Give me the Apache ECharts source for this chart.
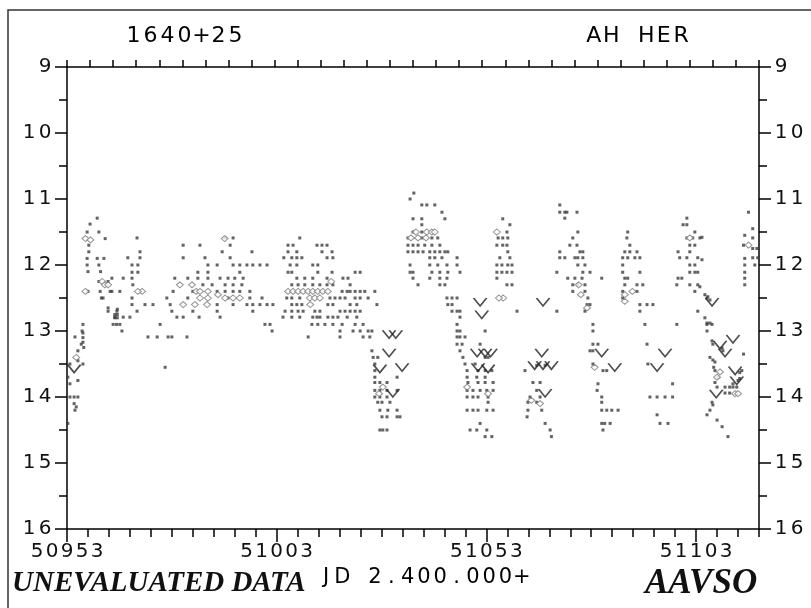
<!DOCTYPE html>
<html><head><meta charset="utf-8">
<script src="https://cdn.jsdelivr.net/npm/echarts@6/dist/echarts.min.js"></script>
<style>html,body{margin:0;padding:0;background:#fff}#c{width:811px;height:608px}</style>
</head><body><div id="c"></div><script>
// ---------- text ----------
const starDesignation = '1640+25';
const starName = 'AH HER';
const jdLabel = 'JD 2.400.000+';
const dataNote = 'UNEVALUATED DATA';
const orgName = 'AAVSO';

// ---------- axes ----------
const jdStart = 50953, jdEnd = 51118;
const jdLabelTicks = [50953, 51003, 51053, 51103];
const magMin = 9, magMax = 16;

// ---------- observations [JD, magnitude] ----------
const obsA = [
[50953.2,14.4],[50953.7,14.0],[50954.7,14.0],[50955.6,14.0],[50954.7,14.1],[50955.2,14.15],[50954.9,14.2],[50953.7,13.8],[50953.7,13.5],[50956.8,13.5],[50953.2,13.7],[50955.6,13.75],[50955.6,13.3],[50955.6,13.45],[50956.8,13.03],[50956.8,13.1],[50956.8,13.17],[50956.4,13.2],[50957.0,13.25],
[50958.5,11.38],[50960.2,11.29],[50957.8,11.5],[50960.6,11.5],[50962.1,11.6],[50958.2,11.7],[50958.2,11.8],[50957.8,11.9],[50960.2,11.9],[50961.8,11.9],[50957.8,12.0],[50960.6,12.0],[50958.0,12.1],[50961.0,12.1],[50963.7,12.2],[50960.6,12.25],[50962.8,12.25],[50958.0,12.4],[50963.7,12.4],[50961.2,12.5],[50962.8,12.65],[50965.0,12.67],[50964.4,12.75],[50965.0,12.75],[50964.4,12.8],[50965.0,12.8],[50964.8,12.9],
[50969.7,11.59],[50990.7,11.59],[50992.6,11.59],[50980.7,11.7],[50984.7,11.7],[50991.9,11.7],[50970.4,11.8],[50990.0,11.8],[50997.1,11.8],[50967.5,11.89],[50970.4,11.89],[50980.7,11.89],[50985.9,11.89],[50991.9,11.89],
[50968.5,12.0],[50969.9,12.0],[50986.6,12.0],[50988.8,12.0],[50992.6,12.0],[50994.2,12.0],[50995.9,12.0],[50997.3,12.0],
[50968.5,12.11],[50969.9,12.11],[50984.2,12.11],[50986.6,12.11],[50994.2,12.11],
[50966.4,12.2],[50968.5,12.2],[50978.7,12.2],[50981.8,12.2],[50984.2,12.2],[50986.6,12.2],[50989.5,12.2],[50991.4,12.2],[50993.0,12.2],[50995.0,12.2],
[50968.7,12.3],[50985.4,12.3],[50987.6,12.3],[50990.7,12.3],[50992.6,12.3],[50994.7,12.3],
[50960.9,12.4],[50963.3,12.4],[50965.6,12.4],[50978.3,12.4],[50983.0,12.4],[50988.8,12.4],[50990.7,12.4],[50992.6,12.4],[50994.2,12.4],[50996.6,12.4],
[50961.6,12.5],[50968.5,12.5],[50976.8,12.5],[50981.8,12.5],[50991.4,12.5],[50996.6,12.5],
[50968.5,12.6],[50971.6,12.6],[50973.5,12.6],[50977.6,12.6],[50988.8,12.6],[50992.6,12.6],[50995.9,12.6],[50997.3,12.6],
[50962.8,12.7],[50964.9,12.7],[50969.7,12.7],[50978.0,12.7],[50983.0,12.7],[50988.8,12.7],[50997.3,12.7],
[50964.4,12.79],[50966.4,12.79],[50968.0,12.79],[50979.2,12.79],[50980.7,12.79],[50984.5,12.79],[50989.5,12.79],
[50956.8,12.9],[50964.0,12.9],[50965.6,12.9],[50975.2,12.9],
[50956.6,13.0],[50966.1,13.0],
[50954.9,13.09],[50972.3,13.09],[50974.5,13.09],[50977.1,13.09],[50978.0,13.09],[50981.6,13.09],[50976.4,13.55]
];
const obsB = [
[51008.5,11.59],[51005.7,11.7],[51006.9,11.7],[51012.6,11.7],[51013.8,11.7],[51015.0,11.7],
[51005.7,11.8],[51007.8,11.8],[51013.8,11.8],[51016.2,11.8],
[51004.7,11.89],[51006.6,11.89],[51007.8,11.89],[51009.0,11.89],[51015.0,11.89],[51016.4,11.89],
[50999.0,12.0],[51000.7,12.0],[51006.2,12.0],[51007.8,12.0],[51011.6,12.0],[51012.8,12.0],
[51005.7,12.11],[51006.6,12.11],[51012.8,12.11],[51016.2,12.11],[51021.7,12.11],[51022.9,12.11],
[51007.8,12.2],[51009.7,12.2],[51011.6,12.2],[51015.0,12.2],[51018.8,12.2],[51020.0,12.2],
[51006.6,12.3],[51008.1,12.3],[51009.7,12.3],[51011.6,12.3],[51013.3,12.3],[51015.0,12.3],[51016.4,12.3],[51020.5,12.3],
[51018.6,12.4],[51019.8,12.4],[51020.5,12.4],[51021.7,12.4],[51022.9,12.4],[51024.0,12.4],[51026.4,12.4],
[50999.5,12.5],[51005.4,12.5],[51006.6,12.5],[51008.5,12.5],[51015.7,12.5],[51016.9,12.5],[51018.1,12.5],[51019.3,12.5],[51021.7,12.5],[51022.9,12.5],[51024.8,12.5],
[50999.0,12.6],[51000.7,12.6],[51002.1,12.6],[51006.6,12.6],[51007.8,12.6],[51009.0,12.6],[51015.2,12.6],[51016.4,12.6],[51020.5,12.6],[51022.1,12.6],[51026.9,12.6],
[51005.0,12.7],[51006.6,12.7],[51008.1,12.7],[51009.3,12.7],[51012.1,12.7],[51013.3,12.7],[51018.1,12.7],[51019.3,12.7],[51020.5,12.7],[51021.7,12.7],[51022.9,12.7],
[51004.5,12.79],[51006.6,12.79],[51008.5,12.79],[51011.6,12.79],[51012.6,12.79],[51013.3,12.79],[51015.2,12.79],[51016.4,12.79],[51017.6,12.79],[51019.8,12.79],[51022.1,12.79],
[51000.2,12.9],[51001.4,12.9],[51011.4,12.9],[51012.8,12.9],[51014.5,12.9],[51016.4,12.9],[51018.6,12.9],[51021.7,12.9],[51023.6,12.9],
[51001.9,13.0],[51018.1,13.0],[51021.2,13.0],[51022.9,13.0],[51024.8,13.0],[51025.7,13.0],
[51010.5,13.09],[51018.1,13.09],[51023.6,13.09],[51025.2,13.09],
[51025.7,13.3],[51026.0,13.4],[51027.1,13.4],[51026.4,13.5],[51026.4,13.6],[51026.4,13.7],[51031.7,13.7],
[51026.4,13.78],[51027.6,13.78],[51029.3,13.78],
[51026.4,13.9],[51027.6,13.9],[51029.3,13.9],[51031.7,13.9],
[51026.4,14.0],[51027.6,14.0],[51029.3,14.0],
[51027.1,14.08],[51028.1,14.08],[51030.0,14.08],
[51027.6,14.2],[51029.5,14.2],[51031.7,14.2],
[51028.1,14.3],[51029.3,14.3],[51031.7,14.3],[51032.4,14.3],
[51027.6,14.5],[51028.3,14.5],[51029.3,14.5]
];
const obsC = [
[51035.7,10.91],[51034.8,11.0],[51037.6,11.09],[51038.8,11.09],[51040.7,11.09],[51042.4,11.2],[51035.5,11.3],[51037.6,11.3],[51043.1,11.3],[51037.6,11.39],
[51035.5,11.5],[51037.6,11.5],
[51034.3,11.59],[51037.6,11.59],[51040.0,11.59],[51041.4,11.59],
[51034.3,11.7],[51035.5,11.7],[51036.7,11.7],[51038.3,11.7],[51040.0,11.7],[51041.9,11.7],
[51034.3,11.8],[51035.5,11.8],[51036.7,11.8],[51037.9,11.8],[51039.5,11.8],[51040.7,11.8],[51041.9,11.8],[51043.1,11.8],[51043.8,11.8],
[51039.5,11.89],[51040.7,11.89],[51042.4,11.89],[51046.0,11.89],
[51034.8,12.0],[51039.5,12.0],[51041.4,12.0],[51043.6,12.0],[51046.0,12.0],
[51034.8,12.11],[51035.5,12.11],[51040.0,12.11],[51041.9,12.11],[51043.8,12.11],[51046.7,12.11],
[51035.5,12.2],[51039.5,12.2],[51041.9,12.2],[51043.6,12.2],
[51036.7,12.3],[51041.9,12.3],[51043.1,12.3],
[51043.6,12.5],[51044.8,12.5],[51046.0,12.5],
[51043.8,12.6],[51044.8,12.6],
[51044.8,12.7],[51046.0,12.7],[51046.7,12.7],
[51046.7,12.79],[51046.0,12.9],[51046.0,13.0],[51046.7,13.0],
[51046.0,13.09],[51046.7,13.09],[51047.9,13.09],
[51046.0,13.2],[51047.2,13.2],[51046.7,13.3],[51047.4,13.4],[51047.9,13.5],[51048.4,13.6],
[51048.4,13.7],[51050.7,13.7],
[51048.6,13.78],[51051.0,13.78],[51052.7,13.78],[51054.6,13.78],
[51048.4,13.9],[51049.8,13.9],[51051.5,13.9],[51053.1,13.9],[51054.6,13.9],
[51048.4,14.0],[51049.8,14.0],[51051.0,14.0],[51053.4,14.0],
[51053.4,14.08],
[51048.4,14.2],[51049.8,14.2],[51051.0,14.2],[51053.1,14.2],[51054.6,14.2],
[51051.5,14.4],
[51049.1,14.5],[51050.7,14.5],[51053.1,14.5],
[51052.7,14.6],[51054.3,14.6],
[51052.7,13.0],[51051.5,13.2],[51052.7,13.4],[51053.4,13.4],[51050.3,13.5],[51051.0,13.6],[51052.7,13.6],[51054.3,13.6],[51052.7,13.7],
[51056.9,11.3],[51058.6,11.39],[51057.9,11.5],[51055.8,11.59],[51056.9,11.59],[51058.1,11.59],[51055.5,11.7],[51056.9,11.7],[51057.9,11.7],[51058.1,11.8],[51056.2,11.89],[51058.6,11.89],[51055.5,12.0],[51056.7,12.0],[51058.1,12.0],[51059.1,12.0],[51055.5,12.11],[51056.7,12.11],[51057.9,12.11],[51059.1,12.11],[51055.5,12.2],[51057.9,12.3],[51059.1,12.3],[51060.3,12.7],
[51062.2,13.6],[51065.0,13.52],[51067.0,13.52],[51064.1,13.78],[51065.8,13.78],[51065.0,13.9],[51063.4,14.0],[51065.8,14.0],[51062.9,14.08],[51065.0,14.08],[51062.9,14.2],[51066.2,14.2],[51062.7,14.3],[51067.0,14.4],[51068.2,14.5],[51068.5,14.6]
];
const obsD = [
[51070.5,11.09],[51070.5,11.2],[51071.7,11.2],[51072.2,11.2],[51074.6,11.2],[51071.7,11.29],[51074.8,11.5],[51073.6,11.59],[51072.9,11.7],[51074.6,11.7],[51070.5,11.8],[51075.3,11.8],[51076.0,11.8],[51070.5,11.89],[51071.7,11.89],[51074.1,11.89],[51074.8,11.89],[51076.0,11.89],[51074.8,12.0],[51076.5,12.0],[51069.8,12.11],[51076.0,12.11],[51077.7,12.11],[51072.4,12.2],[51074.1,12.2],[51075.8,12.2],[51080.5,12.2],[51073.6,12.3],[51074.8,12.3],[51076.5,12.3],[51073.6,12.4],[51076.5,12.4],[51077.2,12.5],[51077.0,12.6],[51077.7,12.6],[51069.8,12.7],[51076.5,12.7],[51078.4,12.9],[51078.4,13.0],[51078.4,13.2],[51079.6,13.2],[51077.7,13.3],[51078.4,13.3],[51078.4,13.5],[51080.8,13.6],[51081.7,13.6],[51079.6,13.8],[51079.4,13.9],[51080.5,14.0],[51080.5,14.08],[51080.5,14.2],[51081.7,14.2],[51082.9,14.2],[51084.4,14.2],[51080.5,14.4],[51081.2,14.4],[51082.5,14.4],[51080.8,14.5],
[51086.7,11.5],[51086.5,11.59],[51087.2,11.7],[51086.0,11.8],[51087.2,11.8],[51088.9,11.8],[51085.5,11.89],[51086.7,11.89],[51088.4,11.89],[51089.6,11.89],[51085.5,12.0],[51085.5,12.11],[51089.6,12.11],[51086.0,12.2],[51086.7,12.2],[51086.0,12.3],[51088.9,12.3],[51090.3,12.3],[51085.5,12.4],[51088.9,12.4],[51085.5,12.5],[51089.6,12.6],[51091.3,12.6],[51092.7,12.6],[51089.6,12.7],[51090.8,12.9],[51091.3,13.2],[51091.5,13.5],[51092.0,14.0],[51093.7,14.0],[51095.6,14.0],[51097.4,14.0],[51093.7,14.27],[51094.4,14.4],[51096.3,14.4],[51097.4,13.8],
[51100.8,11.29],[51099.9,11.39],[51100.8,11.39],[51102.7,11.5],[51100.8,11.59],[51102.2,11.59],[51103.9,11.59],[51101.5,11.7],[51102.7,11.7],[51098.7,11.8],[51101.5,11.8],[51099.1,11.89],[51100.8,11.89],[51103.4,11.89],[51101.5,12.0],[51102.7,12.0],[51101.5,12.11],[51102.7,12.11],[51103.4,12.11],[51098.7,12.2],[51099.6,12.2],[51098.4,12.3],[51101.5,12.3],[51103.4,12.3],[51102.7,12.4],[51105.6,12.5],[51103.4,12.7],[51098.4,12.9],[51105.6,12.9],[51106.8,12.9],[51105.6,13.0],
[51104.4,11.58],[51104.4,11.92],[51103.9,12.33],[51105.1,12.45],[51105.8,12.48],[51106.3,12.53],[51105.1,12.8],[51105.6,12.88],[51106.3,12.88],[51106.8,13.15],[51107.0,13.2],[51109.2,13.26],[51109.4,13.3],[51106.3,13.4],[51107.0,13.44],[51107.5,13.47],[51107.2,13.55],[51107.5,13.6],[51108.2,13.7],[51113.4,13.63],[51107.5,13.78],[51111.8,13.8],[51113.0,13.75],[51113.4,13.72],[51108.0,13.85],[51109.9,13.85],[51111.0,13.85],[51111.8,13.85],[51112.7,13.85],[51109.9,13.94],[51111.0,13.94],[51106.8,14.08],[51107.0,14.12],[51106.3,14.2],[51105.6,14.27],[51108.0,14.35],[51109.2,14.45],[51110.6,14.6],[51113.9,13.6],[51114.3,13.35],
[51115.5,11.2],[51114.6,11.55],[51116.5,11.45],[51116.5,11.75],[51117.5,11.75],[51114.6,11.9],[51114.6,12.0],[51114.6,12.11],[51116.5,11.89],[51117.7,11.89],[51117.0,12.0],[51114.3,11.7],[51116.5,11.59],[51114.6,12.2],[51114.6,12.3]
];
const diamondObs = [
[50957.4,11.6],[50958.6,11.62],[50957.4,12.4],[50961.4,12.25],[50962.0,12.3],[50955.2,13.4],[50979.9,12.3],[50982.8,12.3],[50983.8,12.4],[50984.7,12.4],[50986.6,12.4],[50980.7,12.6],[50983.5,12.6],[50986.4,12.6],[50990.7,12.5],[50992.6,12.5],[50994.2,12.5],[50990.6,11.6],[50962.8,12.3],[50970.9,12.4],[50969.9,12.4],[50984.7,12.5],[50986.6,12.5],[50989.0,12.45],
[51005.7,12.4],[51006.9,12.4],[51008.1,12.4],[51009.3,12.4],[51010.5,12.4],[51011.6,12.4],[51012.8,12.4],[51014.0,12.4],[51015.2,12.4],[51010.9,12.5],[51012.1,12.5],[51013.3,12.5],[51011.0,12.6],[51016.0,12.25],[51028.3,13.85],[51027.4,13.95],
[51036.2,11.5],[51038.8,11.5],[51040.0,11.5],[51040.7,11.5],[51035.0,11.59],[51036.7,11.59],[51038.6,11.59],[51055.5,11.5],[51057.0,12.5],[51056.0,12.5],[51053.4,13.95],[51048.4,13.85],[51075.0,12.3],[51075.5,12.45],[51077.0,12.65],[51086.0,12.45],[51086.0,12.55],[51087.8,12.4],[51101.5,11.59],[51108.7,13.62],[51108.0,13.7],[51112.3,13.95],[51113.0,13.95],[51115.5,11.7],[51078.8,13.55],[51063.7,14.05],[51065.8,14.1]
];
const fainterObs = [
[50954.7,13.57],[51029.8,13.05],[51031.4,13.05],[51029.8,13.33],[51027.6,13.57],[51032.9,13.55],[51030.7,13.94],[51051.5,12.56],[51051.9,12.75],[51052.7,13.33],[51050.8,13.33],[51054.0,13.33],[51053.4,13.57],[51051.0,13.55],[51064.5,13.52],[51066.5,13.52],[51068.5,13.52],[51066.2,13.33],[51066.5,12.56],[51067.0,13.94],[51080.5,13.33],[51083.6,13.55],[51095.6,13.33],[51093.7,13.55],[51106.8,12.56],[51108.7,13.21],[51111.8,13.12],[51112.3,13.6],[51109.9,13.33],[51112.7,13.75],[51107.8,13.95]
];

// ---------- helpers ----------
const INK = '#111';
const plotFont = '"DejaVu Sans", sans-serif';
function mono(s, st) { return s.split('').map(ch => '{' + st + '|' + ch + '}').join(''); }
function monoRich(st, w, size) {
  const r = {}; r[st] = { width: w, align: 'center', fontFamily: plotFont, fontSize: size, color: INK, lineHeight: size + 2 };
  return r;
}
const axisLineStyle = { color: '#000', width: 1.5 };

const chart = echarts.init(document.getElementById('c'), null, { renderer: 'canvas' });
const yAxisBase = (pos) => ({
  type: 'value', position: pos, inverse: true, min: magMin, max: magMax, interval: 1,
  axisLine: { show: true, lineStyle: axisLineStyle },
  axisTick: { show: true, inside: false, length: 12, lineStyle: axisLineStyle },
  minorTick: { show: true, splitNumber: 2, length: 8, lineStyle: axisLineStyle },
  splitLine: { show: false }, minorSplitLine: { show: false },
  axisLabel: { show: true, margin: 14, formatter: v => mono(String(v), 'y'), rich: monoRich('y', 16, 20) }
});
chart.setOption({
  animation: false,
  backgroundColor: '#fff',
  grid: { left: 67, right: 52, top: 67, bottom: 79, containLabel: false, outerBoundsMode: 'none' },
  xAxis: [
    { type: 'value', position: 'bottom', min: jdStart, max: jdEnd, interval: 5,
      axisLine: { show: true, lineStyle: axisLineStyle },
      axisTick: { show: true, length: 8, lineStyle: axisLineStyle },
      axisLabel: { show: false }, splitLine: { show: false } },
    { type: 'value', position: 'bottom', min: jdStart, max: jdEnd, interval: 50,
      axisLine: { show: false },
      axisTick: { show: true, length: 13, lineStyle: axisLineStyle },
      axisLabel: { show: true, margin: 12, showMaxLabel: false,
        formatter: v => jdLabelTicks.indexOf(v) >= 0 ? mono(String(v), 'x') : '',
        rich: monoRich('x', 15, 20) },
      splitLine: { show: false } },
    { type: 'value', position: 'top', min: 0, max: 30, interval: 1,
      axisLine: { show: true, lineStyle: axisLineStyle },
      axisTick: { show: true, length: 7, lineStyle: axisLineStyle },
      axisLabel: { show: false }, splitLine: { show: false } }
  ],
  yAxis: [ yAxisBase('left'), yAxisBase('right') ],
  series: [
    { type: 'scatter', name: 'obs', xAxisIndex: 0, yAxisIndex: 0, symbol: 'rect', symbolSize: 3,
      itemStyle: { color: '#3c3c3c' }, data: obsA.concat(obsB, obsC, obsD) },
    { type: 'scatter', name: 'diamond', xAxisIndex: 0, yAxisIndex: 0, symbol: 'diamond', symbolSize: [7, 6],
      itemStyle: { color: '#fff', borderColor: '#7a7a7a', borderWidth: 1 }, data: diamondObs },
    { type: 'scatter', name: 'fainter', xAxisIndex: 0, yAxisIndex: 0, symbol: 'path://M0,0 L6,8 L12,0', symbolSize: [13, 8],
      itemStyle: { color: 'rgba(0,0,0,0)', borderColor: '#222', borderWidth: 1.5 }, data: fainterObs }
  ],
  graphic: [
    { type: 'rect', silent: true, shape: { x: 8, y: 10, width: 820, height: 700 },
      style: { fill: 'none', stroke: '#333', lineWidth: 1.5 } },
    { type: 'text', silent: true, x: 125, y: 36,
      style: { text: mono(starDesignation, 't'), rich: monoRich('t', 17, 22), verticalAlign: 'middle', align: 'left' } },
    { type: 'text', silent: true, x: 585, y: 36,
      style: { text: mono(starName, 't'), rich: monoRich('t', 17.5, 22), verticalAlign: 'middle', align: 'left' } },
    { type: 'text', silent: true, x: 12, y: 584,
      style: { text: dataNote, font: 'italic bold 29px "Liberation Serif", serif', fill: INK, verticalAlign: 'middle', align: 'left' } },
    { type: 'text', silent: true, x: 318, y: 578,
      style: { text: mono(jdLabel, 'j'), rich: monoRich('j', 16.3, 21), verticalAlign: 'middle', align: 'left' } },
    { type: 'text', silent: true, x: 645, y: 584,
      style: { text: orgName, font: 'italic bold 35px "Liberation Serif", serif', fill: INK, verticalAlign: 'middle', align: 'left' } }
  ]
});
</script></body></html>
